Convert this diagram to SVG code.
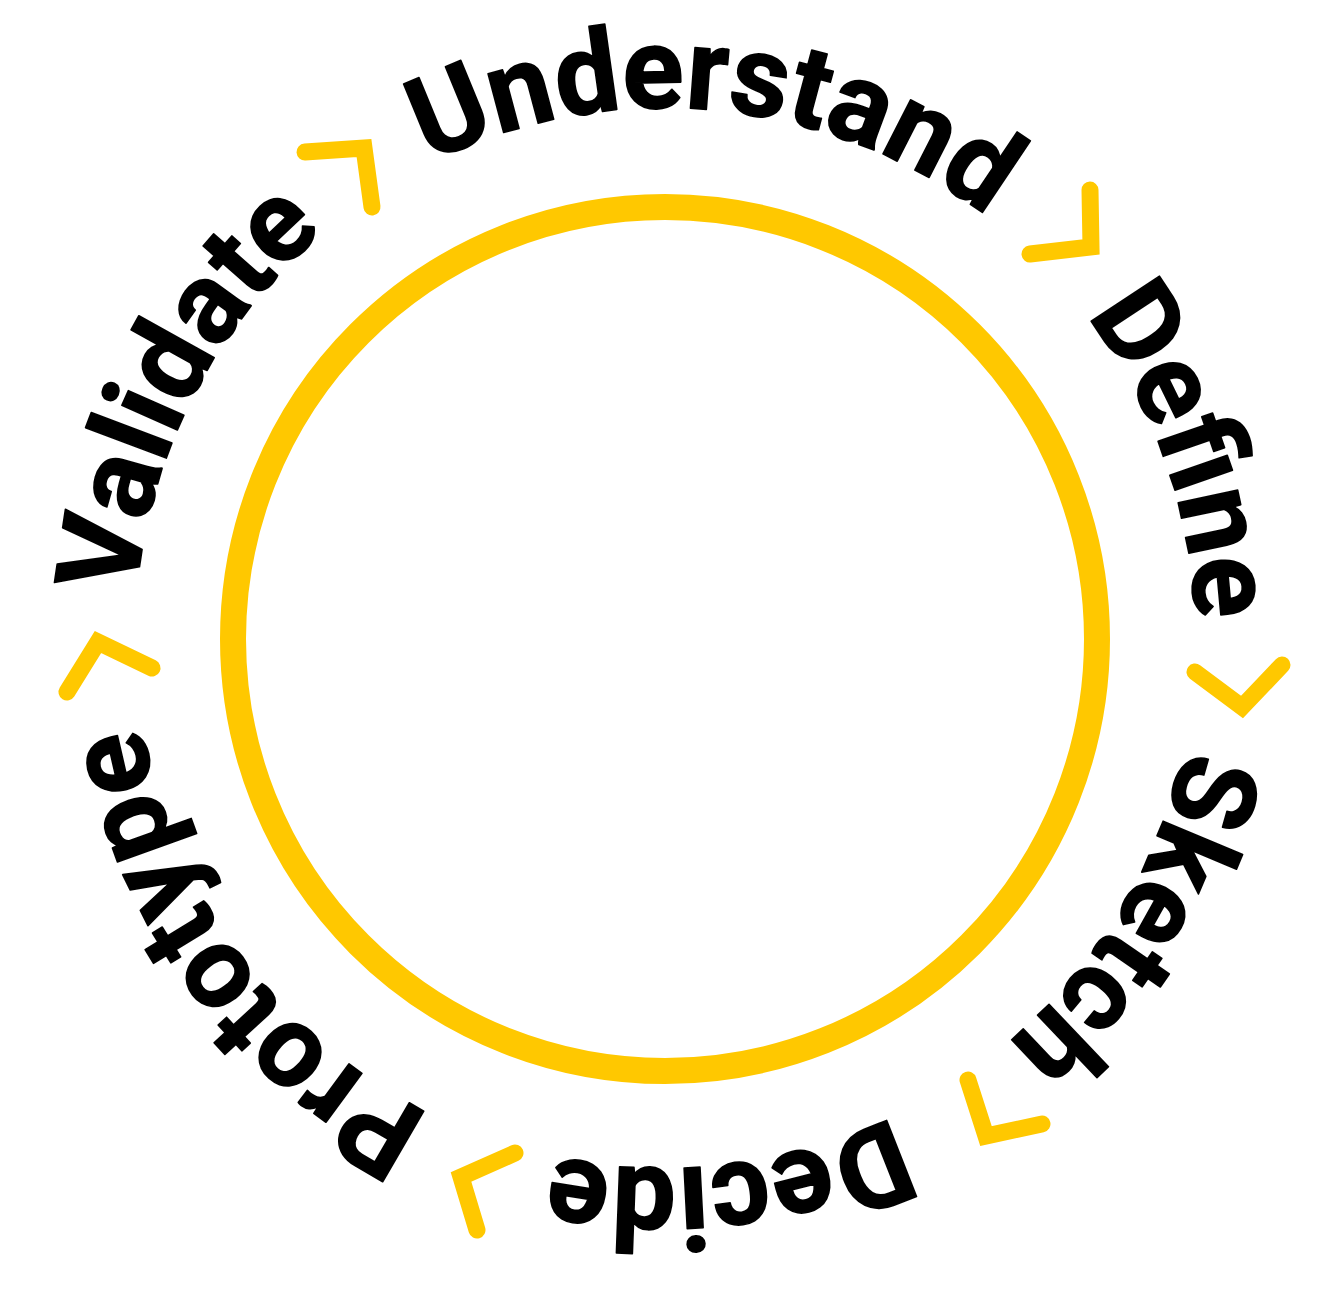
<svg xmlns="http://www.w3.org/2000/svg" xmlns:xlink="http://www.w3.org/1999/xlink" width="1340" height="1308" viewBox="0 0 1340 1308">
  <style>
    .w { font-family: Roboto, "Liberation Sans", Arial, sans-serif; font-weight: 700; font-size: 115px; fill: #000; stroke: #000; stroke-width: 1.6; stroke-linejoin: round; }
    .chev { fill: none; stroke: #FFC800; stroke-width: 17; stroke-linecap: round; stroke-linejoin: miter; }
  </style>
  <defs>
    <path id="ring" d="M 376.34,193.5 A 530 530 0 1 1 953.66,1082.5 A 530 530 0 1 1 376.34,193.5"/>
  </defs>
  <rect width="1340" height="1308" fill="#fff"/>
  <g id="cycle-circle">
    <circle cx="665" cy="639" r="432" fill="none" stroke="#FFC800" stroke-width="26"/>
  </g>
  <g id="step-understand"><text class="w"><textPath href="#ring" xlink:href="#ring" startOffset="61" textLength="590" lengthAdjust="spacingAndGlyphs">Understand</textPath></text></g>
  <g id="step-define"><text class="w"><textPath href="#ring" xlink:href="#ring" startOffset="792" textLength="328" lengthAdjust="spacingAndGlyphs">Define</textPath></text></g>
  <g id="step-sketch"><text class="w"><textPath href="#ring" xlink:href="#ring" startOffset="1249" textLength="350" lengthAdjust="spacingAndGlyphs">Sketch</textPath></text></g>
  <g id="step-decide"><text class="w"><textPath href="#ring" xlink:href="#ring" startOffset="1735" textLength="348" lengthAdjust="spacingAndGlyphs">Decide</textPath></text></g>
  <g id="step-prototype"><text class="w"><textPath href="#ring" xlink:href="#ring" startOffset="2213" textLength="501" lengthAdjust="spacingAndGlyphs">Prototype</textPath></text></g>
  <g id="step-validate"><text class="w"><textPath href="#ring" xlink:href="#ring" startOffset="2846" textLength="420" lengthAdjust="spacingAndGlyphs">Validate</textPath></text></g>
  <g id="connectors">
    <polyline class="chev" points="305,152 364,148 372,207"/>
    <polyline class="chev" points="1090,190 1091,247 1030,254"/>
    <polyline class="chev" points="1195,672 1242,707 1282,665"/>
    <polyline class="chev" points="968,1080 986,1136 1042,1124"/>
    <polyline class="chev" points="515,1153 461,1177 477,1230"/>
    <polyline class="chev" points="67,692 98,642 152,668"/>
  </g>
</svg>
